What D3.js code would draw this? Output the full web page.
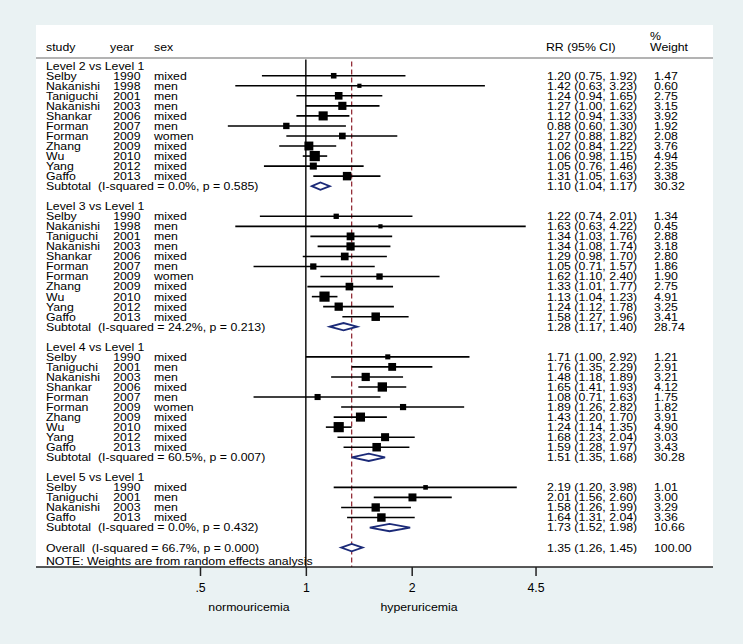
<!DOCTYPE html>
<html><head><meta charset="utf-8">
<script src="https://cdn.jsdelivr.net/npm/d3@7"></script>
<style>body{margin:0;background:#eaf2f3}svg{display:block}text{white-space:pre}</style>
</head><body>
<svg id="c" width="743" height="644"></svg>
<script>
// ---------------- data ----------------
const groupLabels = ["Level 2 vs Level 1","Level 3 vs Level 1","Level 4 vs Level 1","Level 5 vs Level 1"];
const groupStudies = [
  ["Selby","Nakanishi","Taniguchi","Nakanishi","Shankar","Forman","Forman","Zhang","Wu","Yang","Gaffo"],
  ["Selby","Nakanishi","Taniguchi","Nakanishi","Shankar","Forman","Forman","Zhang","Wu","Yang","Gaffo"],
  ["Selby","Taniguchi","Nakanishi","Shankar","Forman","Forman","Zhang","Wu","Yang","Gaffo"],
  ["Selby","Taniguchi","Nakanishi","Gaffo"]
];
const groupYears = [
  [1990,1998,2001,2003,2006,2007,2009,2009,2010,2012,2013],
  [1990,1998,2001,2003,2006,2007,2009,2009,2010,2012,2013],
  [1990,2001,2003,2006,2007,2009,2009,2010,2012,2013],
  [1990,2001,2003,2013]
];
const groupSex = [
  ["mixed","men","men","men","mixed","men","women","mixed","mixed","mixed","mixed"],
  ["mixed","men","men","men","mixed","men","women","mixed","mixed","mixed","mixed"],
  ["mixed","men","men","mixed","men","women","mixed","mixed","mixed","mixed"],
  ["mixed","men","men","mixed"]
];
const groupRR = [
  [1.20,1.42,1.24,1.27,1.12,0.88,1.27,1.02,1.06,1.05,1.31],
  [1.22,1.63,1.34,1.34,1.29,1.05,1.62,1.33,1.13,1.24,1.58],
  [1.71,1.76,1.48,1.65,1.08,1.89,1.43,1.24,1.68,1.59],
  [2.19,2.01,1.58,1.64]
];
const groupLow = [
  [0.75,0.63,0.94,1.00,0.94,0.60,0.88,0.84,0.98,0.76,1.05],
  [0.74,0.63,1.03,1.08,0.98,0.71,1.10,1.01,1.04,1.12,1.27],
  [1.00,1.35,1.18,1.41,0.71,1.26,1.20,1.14,1.23,1.28],
  [1.20,1.56,1.26,1.31]
];
const groupHigh = [
  [1.92,3.23,1.65,1.62,1.33,1.30,1.82,1.22,1.15,1.46,1.63],
  [2.01,4.22,1.76,1.74,1.70,1.57,2.40,1.77,1.23,1.78,1.96],
  [2.92,2.29,1.89,1.93,1.63,2.82,1.70,1.35,2.04,1.97],
  [3.98,2.60,1.99,2.04]
];
const groupWeight = [
  [1.47,0.60,2.75,3.15,3.92,1.92,2.08,3.76,4.94,2.35,3.38],
  [1.34,0.45,2.88,3.18,2.80,1.86,1.90,2.75,4.91,3.25,3.41],
  [1.21,2.91,3.21,4.12,1.75,1.82,3.91,4.90,3.03,3.43],
  [1.01,3.00,3.29,3.36]
];
const subtotalRR = [1.10,1.28,1.51,1.73];
const subtotalLow = [1.04,1.17,1.35,1.52];
const subtotalHigh = [1.17,1.40,1.68,1.98];
const subtotalWeight = [30.32,28.74,30.28,10.66];
const subtotalISq = ["0.0%","24.2%","60.5%","0.0%"];
const subtotalP = ["0.585","0.213","0.007","0.432"];
const overallRR = 1.35, overallLow = 1.26, overallHigh = 1.45, overallWeight = 100.00;
const overallISq = "66.7%", overallP = "0.000";
const tickValues = [0.5, 1, 2, 4.5];
const tickLabels = [".5", "1", "2", "4.5"];

// ---------------- layout ----------------
const svg = d3.select("#c");
const W = 743, H = 644;
const plotL = 36, plotR = 713, plotT = 25, plotB = 567;
const x = d3.scaleLog().domain([0.5, 2]).range([200, 411.7]);
const rowY = i => 65.7 + i * 10.04;
const f2 = d3.format(".2f");
const FONT = "'Liberation Sans', Arial, Helvetica, sans-serif";

svg.append("rect").attr("width", W).attr("height", H).attr("fill", "#eaf2f3");
svg.append("rect").attr("x", plotL).attr("y", plotT).attr("width", plotR - plotL).attr("height", plotB - plotT).attr("fill", "#ffffff");

const gText = svg.append("g").attr("font-family", FONT).attr("font-size", "10.7px").attr("fill", "#000");
function txt(xp, yp, s, anchor) {
  gText.append("text")
    .attr("transform", `translate(${xp},${yp}) scale(1.15,1)`)
    .attr("text-anchor", anchor || "start")
    .attr("xml:space", "preserve")
    .text(s);
}

// header
txt(46, 50.5, "study");
txt(110, 50.5, "year");
txt(154, 50.5, "sex");
txt(546, 50.5, "RR (95% CI)");
txt(650, 39.5, "%");
txt(650, 50.5, "Weight");
svg.append("line").attr("x1", plotL).attr("x2", plotR).attr("y1", 58).attr("y2", 58)
  .attr("stroke", "#9a9a9a").attr("stroke-width", 1.5);

// reference lines
const yTop = 59.5;
svg.append("line").attr("x1", x(1)).attr("x2", x(1)).attr("y1", yTop).attr("y2", plotB)
  .attr("stroke", "#000").attr("stroke-width", 1.4);
svg.append("line").attr("x1", x(overallRR)).attr("x2", x(overallRR)).attr("y1", yTop + 2).attr("y2", plotB)
  .attr("stroke", "#8c1f2a").attr("stroke-width", 1.2).attr("stroke-dasharray", "5,3");

const gMarks = svg.append("g");
const colStudy = 46, colYear = 140.5, colSex = 154, colRR = 547, colW = 654;
const tOff = 3.9;
const diaH = 3.7;

function diamond(y, rr, lo, hi) {
  const p = [[x(lo), y], [x(rr), y - diaH], [x(hi), y], [x(rr), y + diaH]];
  gMarks.append("path").attr("d", "M" + p.map(d => d.join(",")).join("L") + "Z")
    .attr("fill", "#fff").attr("stroke", "#1b2a78").attr("stroke-width", 1.8);
}
function rrText(rr, lo, hi) { return `${f2(rr)} (${f2(lo)}, ${f2(hi)})`; }

let row = 0;
groupLabels.forEach((lab, g) => {
  txt(colStudy, rowY(row) + tOff, lab);
  row++;
  groupStudies[g].forEach((s, i) => {
    const y = rowY(row);
    txt(colStudy, y + tOff, s);
    txt(colYear, y + tOff, String(groupYears[g][i]), "end");
    txt(colSex, y + tOff, groupSex[g][i]);
    txt(colRR, y + tOff, rrText(groupRR[g][i], groupLow[g][i], groupHigh[g][i]));
    txt(colW, y + tOff, f2(groupWeight[g][i]));
    gMarks.append("line").attr("x1", x(groupLow[g][i])).attr("x2", x(groupHigh[g][i]))
      .attr("y1", y).attr("y2", y).attr("stroke", "#000").attr("stroke-width", 1.6);
    const side = Math.max(4.2, 4.6 * Math.sqrt(groupWeight[g][i]));
    gMarks.append("rect").attr("x", x(groupRR[g][i]) - side / 2).attr("y", y - side / 2)
      .attr("width", side).attr("height", side).attr("fill", "#000");
    row++;
  });
  const y = rowY(row);
  txt(colStudy, y + tOff, `Subtotal  (I-squared = ${subtotalISq[g]}, p = ${subtotalP[g]})`);
  txt(colRR, y + tOff, rrText(subtotalRR[g], subtotalLow[g], subtotalHigh[g]));
  txt(colW, y + tOff, f2(subtotalWeight[g]));
  diamond(y, subtotalRR[g], subtotalLow[g], subtotalHigh[g]);
  row += 2;
});
{
  const y = rowY(row);
  txt(colStudy, y + tOff, `Overall  (I-squared = ${overallISq}, p = ${overallP})`);
  txt(colRR, y + tOff, rrText(overallRR, overallLow, overallHigh));
  txt(colW, y + tOff, f2(overallWeight));
  diamond(y, overallRR, overallLow, overallHigh);
  txt(colStudy, 565, "NOTE: Weights are from random effects analysis");
}

// x axis
const axis = d3.axisBottom(x).tickValues(tickValues).tickFormat((d, i) => tickLabels[i]).tickSize(9).tickPadding(7);
const gAx = svg.append("g").attr("transform", `translate(0,${plotB})`).call(axis);
gAx.select(".domain").remove();
gAx.selectAll(".tick line").attr("stroke", "#222").attr("stroke-width", 1.5);
gAx.selectAll(".tick text").attr("font-family", FONT).attr("font-size", "12.3px").attr("fill", "#000");
svg.append("line").attr("x1", plotL).attr("x2", plotR).attr("y1", plotB).attr("y2", plotB)
  .attr("stroke", "#222").attr("stroke-width", 1.6);

txt(249, 611, "normouricemia", "middle");
txt(419, 611, "hyperuricemia", "middle");
</script>
</body></html>
